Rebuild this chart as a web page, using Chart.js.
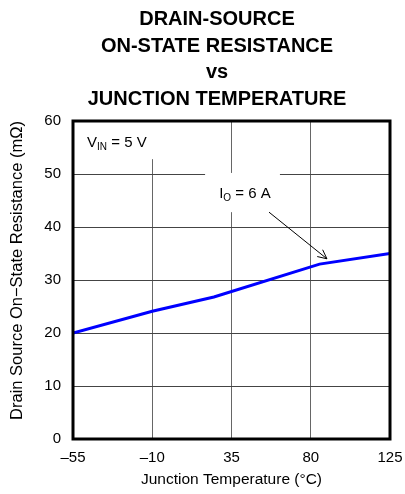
<!DOCTYPE html>
<html>
<head>
<meta charset="utf-8">
<script src="https://cdn.jsdelivr.net/npm/chart.js@4"></script>
<style>
  html, body { margin: 0; padding: 0; background: #fff; }
  #chart { display: block; }
</style>
</head>
<body>
<canvas id="chart" width="405" height="494"></canvas>
<script>
const titleLines = ['DRAIN-SOURCE', 'ON-STATE RESISTANCE', 'vs', 'JUNCTION TEMPERATURE'];
const tempC  = [-55, -10, 25, 85, 125];
const rdsOn  = [20, 24.1, 26.8, 33, 35];
const xTicks = [-55, -10, 35, 80, 125];
const yTicks = [0, 10, 20, 30, 40, 50, 60];
const xLabel = 'Junction Temperature (°C)';
const yLabel = 'Drain Source On\u2212State Resistance (mΩ)';

const FONT = '"Liberation Sans", Arial, Helvetica, sans-serif';

// annotation placement, in data units
const notes = [
  { main: 'V', sub: 'IN', rest: ' = 5 V', x: -47, y: 55.1, box: [-55, -9, 60, 52.8] },
  { main: 'I', sub: 'O',  rest: ' = 6 A', x: 28,  y: 45.5, box: [20, 62.5, 50.2, 42.8] }
];
const arrow = { from: [56.3, 42.8], to: [89.2, 34.0] };

const decor = {
  id: 'decor',
  beforeDatasetsDraw(chart) {
    // the label boxes knock the grid out, as in the original
    const { ctx, scales: { x, y } } = chart;
    ctx.save();
    ctx.fillStyle = '#fff';
    notes.forEach(n => {
      const l = x.getPixelForValue(n.box[0]), r = x.getPixelForValue(n.box[1]);
      const t = y.getPixelForValue(n.box[2]), b = y.getPixelForValue(n.box[3]);
      ctx.fillRect(l, t, r - l, b - t);
    });
    ctx.restore();
  },
  afterDatasetsDraw(chart) {
    const { ctx, chartArea: a, scales: { x, y } } = chart;
    ctx.save();

    // heavy frame
    ctx.strokeStyle = '#000';
    ctx.lineWidth = 3;
    ctx.strokeRect(a.left, a.top, a.right - a.left, a.bottom - a.top);

    // labels with subscripts
    ctx.fillStyle = '#000';
    ctx.textBaseline = 'alphabetic';
    ctx.textAlign = 'left';
    notes.forEach(n => {
      let px = x.getPixelForValue(n.x);
      const py = y.getPixelForValue(n.y);
      ctx.font = '15px ' + FONT;
      ctx.fillText(n.main, px, py);
      px += ctx.measureText(n.main).width;
      ctx.font = '10px ' + FONT;
      ctx.fillText(n.sub, px, py + 3);
      px += ctx.measureText(n.sub).width;
      ctx.font = '15px ' + FONT;
      ctx.fillText(n.rest, px, py);
    });

    // arrow to the curve
    const x0 = x.getPixelForValue(arrow.from[0]), y0 = y.getPixelForValue(arrow.from[1]);
    const x1 = x.getPixelForValue(arrow.to[0]),   y1 = y.getPixelForValue(arrow.to[1]);
    const ang = Math.atan2(y1 - y0, x1 - x0);
    ctx.lineWidth = 1;
    ctx.beginPath();
    ctx.moveTo(x0, y0);
    ctx.lineTo(x1, y1);
    [-0.45, 0.45].forEach(d => {
      ctx.moveTo(x1, y1);
      ctx.lineTo(x1 - 10 * Math.cos(ang + d), y1 - 10 * Math.sin(ang + d));
    });
    ctx.stroke();
    ctx.restore();
  },
  afterDraw(chart) {
    const { ctx } = chart;
    ctx.save();
    ctx.fillStyle = '#000';
    ctx.font = 'bold 20px ' + FONT;
    ctx.textAlign = 'center';
    ctx.textBaseline = 'alphabetic';
    titleLines.forEach((t, i) => ctx.fillText(t, 217, 25 + i * 26.5));
    ctx.restore();
  }
};

const fmt = v => v < 0 ? '\u2013' + Math.abs(v) : String(v);

new Chart(document.getElementById('chart'), {
  type: 'line',
  data: {
    datasets: [{
      data: tempC.map((t, i) => ({ x: t, y: rdsOn[i] })),
      borderColor: '#0000ff',
      borderWidth: 3,
      pointRadius: 0,
      tension: 0,
      fill: false
    }]
  },
  options: {
    responsive: false,
    animation: false,
    layout: { padding: { top: 121, right: 15, left: 0, bottom: 0 } },
    plugins: { legend: { display: false }, tooltip: { enabled: false } },
    scales: {
      x: {
        type: 'linear',
        min: -55, max: 125,
        afterBuildTicks: s => { s.ticks = xTicks.map(v => ({ value: v })); },
        afterFit: s => { s.height = 55; s.paddingLeft = 0; s.paddingRight = 0; },
        grid: { color: '#666', lineWidth: 1, drawTicks: false },
        border: { display: false },
        ticks: { color: '#000', font: { family: FONT, size: 15 }, padding: 10, maxRotation: 0, callback: fmt },
        title: { display: true, text: xLabel, color: '#000', font: { family: FONT, size: 15.5 }, padding: { bottom: 4.5 } }
      },
      y: {
        min: 0, max: 60,
        afterBuildTicks: s => { s.ticks = yTicks.map(v => ({ value: v })); },
        afterFit: s => { s.width = 73; s.paddingTop = 0; s.paddingBottom = 0; },
        grid: { color: '#444', lineWidth: 1, drawTicks: false },
        border: { display: false },
        ticks: { color: '#000', font: { family: FONT, size: 15 }, padding: 12, callback: fmt },
        title: { display: true, text: yLabel, align: 'end', color: '#000', font: { family: FONT, size: 16.5 }, padding: { top: 8 } }
      }
    }
  },
  plugins: [decor]
});
</script>
</body>
</html>
